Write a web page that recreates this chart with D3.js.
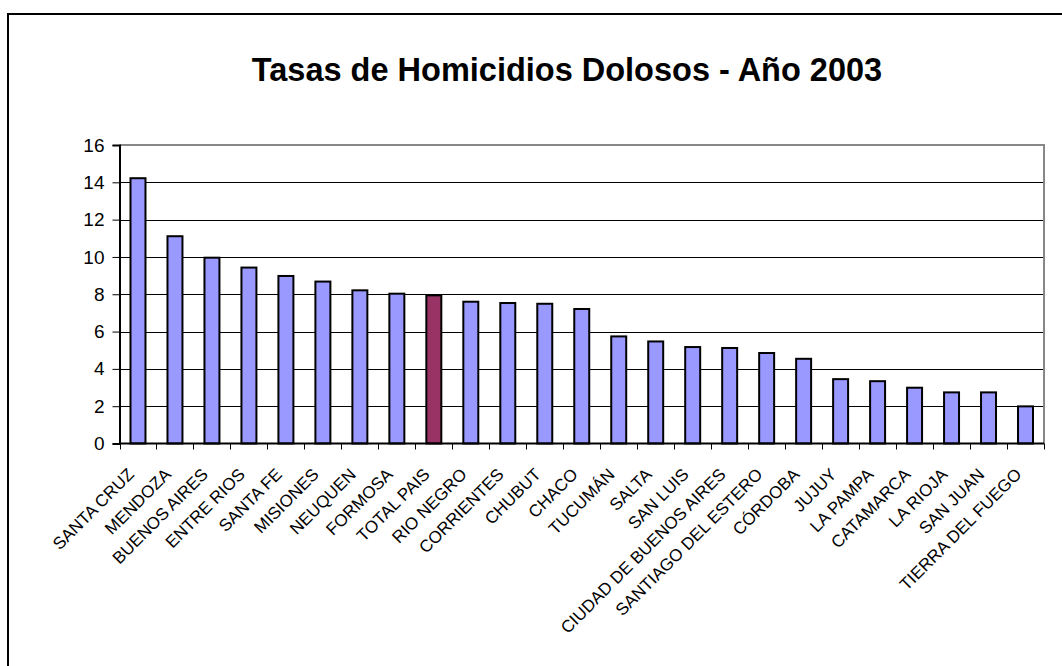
<!DOCTYPE html>
<html><head><meta charset="utf-8">
<script src="https://cdn.jsdelivr.net/npm/d3@7/dist/d3.min.js"></script>
<style>body{margin:0;background:#fff}svg{display:block;font-family:"Liberation Sans",Arial,sans-serif}</style>
</head><body>
<svg id="c" width="1062" height="666"></svg>
<script>
const categories = ["SANTA CRUZ","MENDOZA","BUENOS AIRES","ENTRE RIOS","SANTA FE","MISIONES","NEUQUEN","FORMOSA","TOTAL PAIS","RIO NEGRO","CORRIENTES","CHUBUT","CHACO","TUCUMÁN","SALTA","SAN LUIS","CIUDAD DE BUENOS AIRES","SANTIAGO DEL ESTERO","CÓRDOBA","JUJUY","LA PAMPA","CATAMARCA","LA RIOJA","SAN JUAN","TIERRA DEL FUEGO"];
const values = [14.22,11.11,9.96,9.43,8.98,8.68,8.21,8.03,7.94,7.60,7.53,7.49,7.21,5.74,5.47,5.17,5.12,4.85,4.54,3.45,3.34,2.99,2.74,2.74,1.99];
const highlight = ["TOTAL PAIS"];
const yTicks = [0,2,4,6,8,10,12,14,16];
const title = "Tasas de Homicidios Dolosos - Año 2003";

const FONT = '"Liberation Sans", Arial, sans-serif';
const svg = d3.select("#c");
const L = 119.5, R = 1044, T = 145, B = 443.5;

svg.append("rect").attr("x",8).attr("y",14).attr("width",1100).attr("height",700)
  .attr("fill","none").attr("stroke","#000").attr("stroke-width",2);

svg.append("text").attr("x",567).attr("y",81).attr("text-anchor","middle")
  .attr("font-size",32.5).attr("font-weight","bold").attr("font-family",FONT).text(title);

const x = d3.scaleBand().domain(categories).range([L,R]).paddingInner(0.595).paddingOuter(0.2975);
const xb = d3.scaleBand().domain(categories).range([L,R]);
const y = d3.scaleLinear().domain([0,16]).range([B,T]);

svg.append("g").selectAll("line").data(yTicks.filter(d=>d>0 && d<16)).join("line")
  .attr("x1",L).attr("x2",R).attr("y1",d=>Math.round(y(d))+0.5).attr("y2",d=>Math.round(y(d))+0.5)
  .attr("stroke","#000").attr("stroke-width",1);
svg.append("path").attr("d",`M${L},${T}H${R}V${B}`).attr("fill","none").attr("stroke","#888").attr("stroke-width",2);

svg.append("g").selectAll("rect").data(categories).join("rect")
  .attr("x",d=>x(d)).attr("width",x.bandwidth())
  .attr("y",(d,i)=>y(values[i])).attr("height",(d,i)=>B-y(values[i]))
  .attr("fill",d=>highlight.includes(d)?"#993366":"#9999ff")
  .attr("stroke","#000").attr("stroke-width",2);

const ya = svg.append("g").attr("transform",`translate(${L},0)`)
  .call(d3.axisLeft(y).tickValues(yTicks).tickSize(7).tickFormat(d3.format("d")));
ya.attr("font-size",19).attr("font-family",FONT);
ya.select(".domain").attr("stroke","#000").attr("stroke-width",2);
ya.selectAll(".tick line").attr("stroke","#000");
ya.selectAll("text").style("font-size","19px").attr("fill","#000").attr("x",-15);

const bounds = categories.map(c=>xb(c)).concat([R]);
svg.append("line").attr("x1",L).attr("x2",R).attr("y1",B).attr("y2",B).attr("stroke","#000").attr("stroke-width",2);
svg.append("g").selectAll("line").data(bounds).join("line")
  .attr("x1",d=>Math.round(d)+0.5).attr("x2",d=>Math.round(d)+0.5).attr("y1",B).attr("y2",B+6)
  .attr("stroke","#000");

svg.append("g").selectAll("text").data(categories).join("text")
  .attr("transform",d=>`translate(${xb(d)+xb.bandwidth()/2-3},${B+32}) rotate(-45)`)
  .attr("text-anchor","end").style("font-size","17px").attr("font-family",FONT).text(d=>d);
</script>
</body></html>
